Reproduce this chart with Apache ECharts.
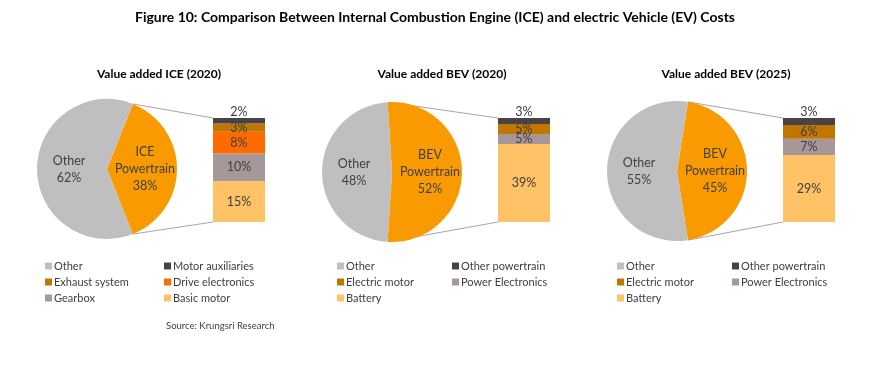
<!DOCTYPE html>
<html><head><meta charset="utf-8">
<script src="https://cdn.jsdelivr.net/npm/echarts@6/dist/echarts.min.js"></script>
<style>html,body{margin:0;padding:0;background:#fff}#c{width:870px;height:373px}</style>
</head><body><div id="c"></div><script>
// ---- data ----
const mainTitle = 'Figure 10: Comparison Between Internal Combustion Engine (ICE) and electric Vehicle (EV) Costs';
const sourceText = 'Source: Krungsri Research';
const panelTitles = ['Value added ICE (2020)', 'Value added BEV (2020)', 'Value added BEV (2025)'];

const pieNames1 = ['ICE\nPowertrain', 'Other'];
const pieValues1 = [38, 62];
const barNames1 = ['Basic motor', 'Gearbox', 'Drive electronics', 'Exhaust system', 'Motor auxiliaries'];
const barValues1 = [15, 10, 8, 3, 2];

const pieNames2 = ['BEV\nPowertrain', 'Other'];
const pieValues2 = [52, 48];
const barNames2 = ['Battery', 'Power Electronics', 'Electric motor', 'Other powertrain'];
const barValues2 = [39, 5, 5, 3];

const pieNames3 = ['BEV\nPowertrain', 'Other'];
const pieValues3 = [45, 55];
const barNames3 = ['Battery', 'Power Electronics', 'Electric motor', 'Other powertrain'];
const barValues3 = [29, 7, 6, 3];

const legendCols1 = [['Other', 'Exhaust system', 'Gearbox'], ['Motor auxiliaries', 'Drive electronics', 'Basic motor']];
const legendCols2 = [['Other', 'Electric motor', 'Battery'], ['Other powertrain', 'Power Electronics']];
const legendCols3 = [['Other', 'Electric motor', 'Battery'], ['Other powertrain', 'Power Electronics']];

// ---- styles ----
const colors = {
  'Other': '#BFBFBF',
  'ICE\nPowertrain': '#F99B00',
  'BEV\nPowertrain': '#F99B00',
  'Motor auxiliaries': '#4A4346',
  'Other powertrain': '#4A4346',
  'Exhaust system': '#C07600',
  'Electric motor': '#C07600',
  'Drive electronics': '#FF6A00',
  'Gearbox': '#A69898',
  'Power Electronics': '#A69898',
  'Basic motor': '#FFC266',
  'Battery': '#FFC266'
};
const FONT = 'Lato';
const TXT = '#404040';

const panels = [
  {pieNames: pieNames1, pieValues: pieValues1, barNames: barNames1, barValues: barValues1, legend: legendCols1,
   cx: 107, cy: 169, titleX: 159, gridLeft: 213, legX: [40, 159]},
  {pieNames: pieNames2, pieValues: pieValues2, barNames: barNames2, barValues: barValues2, legend: legendCols2,
   cx: 392, cy: 172, titleX: 442, gridLeft: 498, legX: [332, 447]},
  {pieNames: pieNames3, pieValues: pieValues3, barNames: barNames3, barValues: barValues3, legend: legendCols3,
   cx: 677, cy: 171, titleX: 726, gridLeft: 783, legX: [612, 727]}
];
const R = 70, GRID_TOP = 118, GRID_H = 104, GRID_W = 52;

const sum = a => a.reduce((s, v) => s + v, 0);

const option = {
  animation: false,
  textStyle: {fontFamily: FONT},
  title: [{text: mainTitle, left: 435, top: 10, textAlign: 'center', padding: 0,
           textStyle: {fontFamily: FONT, fontSize: 14, fontWeight: 'bold', color: '#000'}}],
  grid: [], xAxis: [], yAxis: [], series: [], legend: [],
  graphic: []
};

panels.forEach((p, i) => {
  option.title.push({text: panelTitles[i], left: p.titleX, top: 68, textAlign: 'center', padding: 0,
    textStyle: {fontFamily: FONT, fontSize: 12, fontWeight: 'bold', color: '#000'}});
  option.grid.push({left: p.gridLeft, top: GRID_TOP, width: GRID_W, height: GRID_H});
  option.xAxis.push({type: 'category', gridIndex: i, data: [''], show: false});
  option.yAxis.push({type: 'value', gridIndex: i, min: 0, max: sum(p.barValues), show: false});
  const ptot = sum(p.pieValues);
  option.series.push({
    type: 'pie', center: [p.cx, p.cy], radius: R,
    startAngle: 180 * p.pieValues[0] / ptot, clockwise: true,
    label: {show: true, position: 'inside', color: TXT, fontFamily: FONT, fontSize: 12.5, lineHeight: 17,
            formatter: q => q.name + '\n' + q.value + '%'},
    labelLine: {show: false},
    emphasis: {disabled: true},
    itemStyle: {borderWidth: 0},
    data: p.pieNames.map((n, k) => ({name: n, value: p.pieValues[k], itemStyle: {color: colors[n]}}))
  });
  p.barNames.forEach((n, k) => {
    const isTop = k === p.barNames.length - 1;
    option.series.push({
      type: 'bar', name: n, xAxisIndex: i, yAxisIndex: i, stack: 's' + i,
      barWidth: '100%', barCategoryGap: '0%',
      itemStyle: {color: colors[n]},
      emphasis: {disabled: true},
      label: {show: true, position: isTop ? 'top' : 'inside', distance: isTop ? 0 : 5,
              color: TXT, fontFamily: FONT, fontSize: 12.5, formatter: q => q.value + '%'},
      data: [p.barValues[k]]
    });
  });
  p.legend.forEach((col, c) => {
    option.legend.push({
      orient: 'vertical', left: p.legX[c], top: 254, itemWidth: 7, itemHeight: 7, itemGap: 2,
      icon: 'rect', selectedMode: false,
      textStyle: {fontFamily: FONT, fontSize: 11, color: TXT, lineHeight: 14, padding: [0, 0, 0, -3]},
      data: col
    });
  });
});
option.graphic.push({type: 'text', left: 166, top: 321,
  style: {text: sourceText, fontFamily: FONT, fontSize: 9.5, fill: TXT, textAlign: 'center'}});

const chart = echarts.init(document.getElementById('c'), null, {renderer: 'canvas'});
chart.setOption(option);

// connector lines from powertrain slice edges to bar corners
const lines = [];
panels.forEach((p, i) => {
  const a = Math.PI * p.pieValues[0] / sum(p.pieValues);
  const px = p.cx + R * Math.cos(a);
  const pyTop = p.cy - R * Math.sin(a);
  const pyBot = p.cy + R * Math.sin(a);
  const cxBar = chart.convertToPixel({xAxisIndex: i}, 0);
  const bx = cxBar - GRID_W / 2;
  const byTop = chart.convertToPixel({yAxisIndex: i}, sum(p.barValues));
  const byBot = chart.convertToPixel({yAxisIndex: i}, 0);
  lines.push({type: 'line', shape: {x1: px, y1: pyTop, x2: bx, y2: byTop}, style: {stroke: '#A6A6A6', lineWidth: 1}, z: 0});
  lines.push({type: 'line', shape: {x1: px, y1: pyBot, x2: bx, y2: byBot}, style: {stroke: '#A6A6A6', lineWidth: 1}, z: 0});
});
chart.setOption({graphic: option.graphic.concat(lines)});
</script></body></html>
